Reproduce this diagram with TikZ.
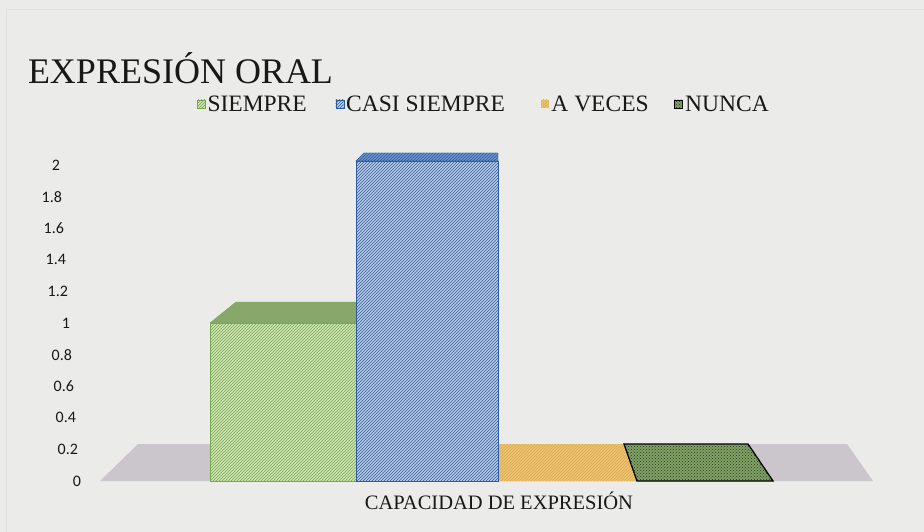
\documentclass[tikz,border=0pt]{standalone}
\usepackage{fontspec}
\setmainfont{Liberation Serif}
\newfontfamily\tickfont{Carlito}
\usetikzlibrary{positioning, patterns}
\definecolor{paper}{RGB}{235,235,233}
\definecolor{floorgray}{RGB}{202,198,204}
\definecolor{siempreFill}{RGB}{204,228,170}
\definecolor{siempreTop}{RGB}{140,170,110}
\definecolor{siempreLine}{RGB}{112,172,64}
\definecolor{siempreHatch}{RGB}{128,166,98}
\definecolor{casiFill}{RGB}{180,204,232}
\definecolor{casiTop}{RGB}{104,148,206}
\definecolor{casiLine}{RGB}{44,92,170}
\definecolor{casiHatch}{RGB}{56,90,150}
\definecolor{vecesFill}{RGB}{236,194,112}
\definecolor{vecesHatch}{RGB}{216,170,86}
\definecolor{nuncaFill}{RGB}{126,162,96}
\definecolor{inkdark}{RGB}{24,24,24}
\tikzset{
x=1pt, y=-1pt, % one unit is one pixel, y grows downwards
every node/.style={inner sep=0pt, outer sep=0pt, text=inkdark}, % no padding round the texts
tick/.style={anchor=east, font=\tickfont\fontsize{16}{18}\selectfont}, % numbers of the value axis
legendbox/.style={minimum size=8pt, anchor=west}, % small squares of the legend
legendtext/.style={font=\fontsize{23.5}{26}\selectfont, right=2.5pt of #1}, % names of the legend
}
\tikzset{
  siempre/.style={fill=siempreFill, draw=siempreLine, postaction={pattern=north east lines, pattern color=siempreHatch}},
  casi/.style={fill=casiFill, draw=casiLine, postaction={pattern=north east lines, pattern color=casiHatch}},
  veces/.style={fill=vecesFill, postaction={pattern=north east lines, pattern color=vecesHatch}},
  nunca/.style={fill=nuncaFill, draw=black, postaction={pattern=crosshatch dots, pattern color=black!80}}
}
\begin{document}
\begin{tikzpicture}
      \fill[paper] (0,0) rectangle (924,532);
      \useasboundingbox (0,0) rectangle (924,532);
      \draw[black!12, line width=1pt] (6,532) -- (6,10) -- (924,10);

      % title and legend
      \node[anchor=base west, font=\fontsize{36}{40}\selectfont] (title) at (28,84) {EXPRESIÓN ORAL};
      \node[legendbox, siempre] (sqSiempre) at (197,104) {};
      \node[legendtext=sqSiempre] (lbSiempre) {SIEMPRE};
      \node[legendbox, casi, right=29pt of lbSiempre] (sqCasi) {};
      \node[legendtext=sqCasi] (lbCasi) {CASI SIEMPRE};
      \node[legendbox, veces, right=36pt of lbCasi] (sqVeces) {};
      \node[legendtext=sqVeces] (lbVeces) {A VECES};
      \node[legendbox, nunca, right=26pt of lbVeces] (sqNunca) {};
      \node[legendtext=sqNunca] (lbNunca) {NUNCA};

      % value axis
      \node[tick] (t20) at (60,165) {2};
      \node[tick] (t18) at (62,196.6) {1.8};
      \node[tick] (t16) at (64,228.2) {1.6};
      \node[tick] (t14) at (66,259.8) {1.4};
      \node[tick] (t12) at (68,291.4) {1.2};
      \node[tick] (t10) at (70,323) {1};
      \node[tick] (t08) at (72,354.6) {0.8};
      \node[tick] (t06) at (74,386.2) {0.6};
      \node[tick] (t04) at (76,417.8) {0.4};
      \node[tick] (t02) at (78,449.4) {0.2};
      \node[tick] (t00) at (81,481) {0};

      % floor and columns
      \fill[floorgray] (100,481) -- (873,481) -- (847,444) -- (138,444) -- cycle;
      \path[veces] (498,481) -- (637,481) -- (624,444) -- (498,444) -- cycle;
      \path[nunca, line width=1.3pt] (637,481) -- (773,481) -- (748,444) -- (624,444) -- cycle;
      \path[siempre, fill=siempreTop] (210,323) -- (236,302) -- (362,302) -- (356,323) -- cycle;
      \path[siempre] (210,323) rectangle (356,481);
      \path[casi, fill=casiTop] (356,161) -- (364,153) -- (498,153) -- (498,161) -- cycle;
      \path[casi] (356,161) rectangle (498,481);

      \node[anchor=base, font=\fontsize{20.5}{22}\selectfont] (capacidad) at (499,509) {CAPACIDAD DE EXPRESIÓN};
    \end{tikzpicture}
\end{document}
